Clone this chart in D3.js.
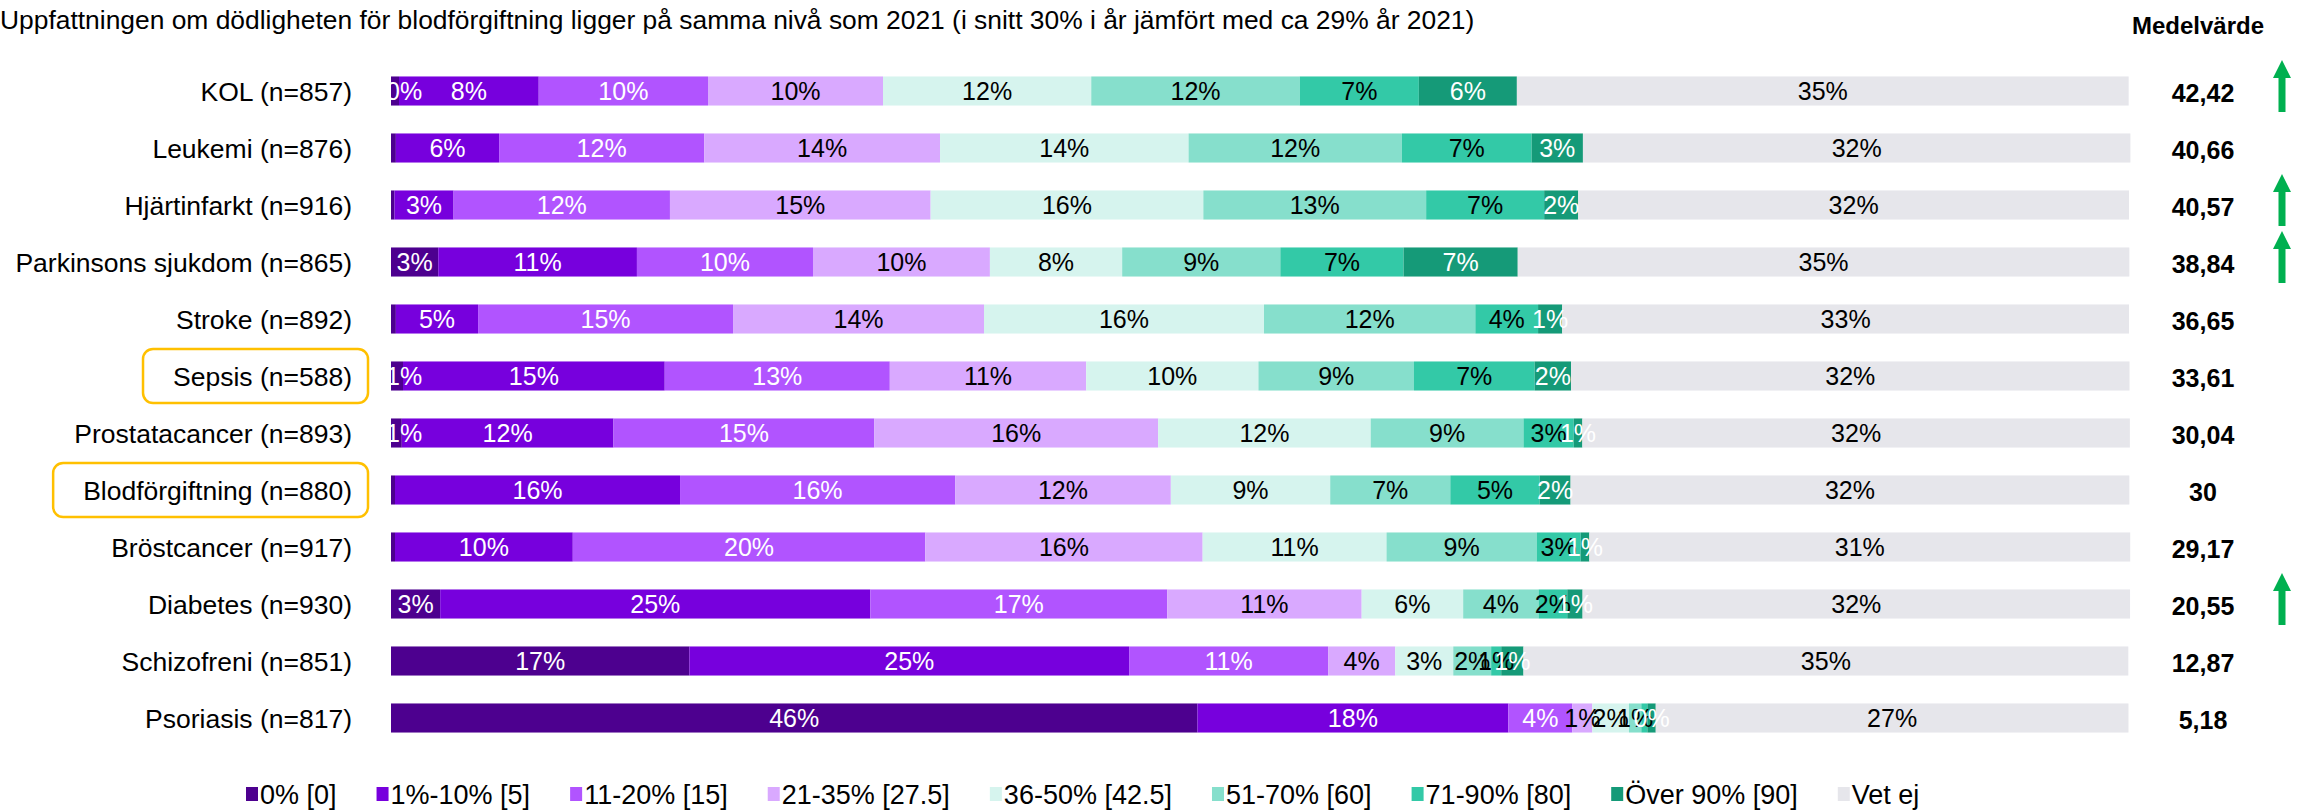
<!DOCTYPE html>
<html>
<head>
<meta charset="utf-8">
<script src="https://cdn.jsdelivr.net/npm/d3@7"></script>
<style>
  body { margin: 0; background: #fff; }
  text { font-family: "Liberation Sans", Arial, sans-serif; }
</style>
</head>
<body>
<svg width="2297" height="812"></svg>
<script>
var title = "Uppfattningen om dödligheten för blodförgiftning ligger på samma nivå som 2021 (i snitt 30% i år jämfört med ca 29% år 2021)";

var categories = ["KOL (n=857)", "Leukemi (n=876)", "Hjärtinfarkt (n=916)", "Parkinsons sjukdom (n=865)",
    "Stroke (n=892)", "Sepsis (n=588)", "Prostatacancer (n=893)", "Blodförgiftning (n=880)",
    "Bröstcancer (n=917)", "Diabetes (n=930)", "Schizofreni (n=851)", "Psoriasis (n=817)"];

var keys = ["0% [0]", "1%-10% [5]", "11-20% [15]", "21-35% [27.5]", "36-50% [42.5]",
    "51-70% [60]", "71-90% [80]", "Över 90% [90]", "Vet ej"];

// andel (%) per svarsalternativ, en array per serie
var s0   = [0.46, 0.28, 0.2, 2.72, 0.28, 0.69, 0.62, 0.23, 0.23, 2.83, 17.17, 46.4];
var s1   = [8.04, 5.94, 3.4, 11.43, 4.73, 15.06, 12.18, 16.4, 10.23, 24.75, 25.3, 17.89];
var s2   = [9.74, 11.8, 12.45, 10.13, 14.67, 12.95, 15.01, 15.83, 20.28, 17.08, 11.45, 3.68];
var s3   = [10.07, 13.57, 15.0, 10.18, 14.44, 11.3, 16.33, 12.41, 15.96, 11.19, 3.86, 1.15];
var s4   = [11.98, 14.3, 15.69, 7.61, 16.11, 9.91, 12.23, 9.17, 10.58, 5.84, 3.34, 2.11];
var s5   = [12.0, 12.27, 12.82, 9.1, 12.16, 8.95, 8.79, 6.91, 8.64, 4.34, 2.18, 0.71];
var s6   = [6.85, 7.47, 6.79, 7.09, 3.61, 6.94, 2.89, 5.14, 2.53, 1.65, 0.58, 0.35];
var s7   = [5.64, 2.95, 1.96, 6.57, 1.39, 2.1, 0.5, 1.78, 0.5, 0.88, 1.28, 0.48];
var vetEj = [35.2, 31.5, 31.69, 35.19, 32.61, 32.13, 31.5, 32.15, 31.12, 31.5, 34.8, 27.2];

var medel = [42.42, 40.66, 40.57, 38.84, 36.65, 33.61, 30.04, 30, 29.17, 20.55, 12.87, 5.18];
var upArrow = ["KOL (n=857)", "Hjärtinfarkt (n=916)", "Parkinsons sjukdom (n=865)", "Diabetes (n=930)"];
var highlighted = ["Sepsis (n=588)", "Blodförgiftning (n=880)"];

var colors = ["#4d008f", "#7700dd", "#b154ff", "#d9a9ff", "#d6f4ee", "#86dfcc", "#33c9a7", "#159a78", "#e6e6eb"];
var textColors = ["#fff", "#fff", "#fff", "#000", "#000", "#000", "#000", "#fff", "#000"];

var series = [s0, s1, s2, s3, s4, s5, s6, s7, vetEj];
var data = categories.map(function(c, i) {
    var row = { cat: c };
    keys.forEach(function(k, j) { row[k] = series[j][i]; });
    return row;
});

var svg = d3.select("svg");

var x = d3.scaleLinear().domain([0, 100]).range([391, 2129]);
var y = d3.scaleBand().domain(categories).range([62.5, 746.5])
    .paddingInner(0.49).paddingOuter(0.245);

svg.append("defs").append("clipPath")
    .attr("id", "plotclip")
    .append("rect")
    .attr("x", x(0))
    .attr("y", 0)
    .attr("width", 2297 - x(0))
    .attr("height", 812);

svg.append("text")
    .attr("x", 0)
    .attr("y", 29)
    .attr("font-size", "26.4px")
    .text(title);

svg.append("text")
    .attr("x", 2198)
    .attr("y", 34)
    .attr("text-anchor", "middle")
    .attr("font-size", "24px")
    .attr("font-weight", "bold")
    .text("Medelvärde");

var stacked = d3.stack().keys(keys)(data);

var layer = svg.append("g").selectAll("g")
    .data(stacked)
    .enter().append("g")
    .attr("fill", function(d, i) { return colors[i]; });

layer.selectAll("rect")
    .data(function(d) { return d; })
    .enter().append("rect")
    .attr("x", function(d) { return x(d[0]); })
    .attr("y", function(d) { return y(d.data.cat); })
    .attr("width", function(d) { return x(d[1]) - x(d[0]); })
    .attr("height", y.bandwidth());

// procentetiketter
var labels = svg.append("g").attr("clip-path", "url(#plotclip)");
stacked.forEach(function(s, i) {
    labels.append("g").selectAll("text")
        .data(s.filter(function(d) { return d[1] - d[0] >= 0.4; }))
        .enter().append("text")
        .attr("y", function(d) { return y(d.data.cat) + y.bandwidth() / 2; })
        .attr("dy", "0.36em")
        .attr("text-anchor", "middle")
        .attr("font-size", "25px")
        .attr("fill", textColors[i])
        .text(function(d) { return Math.round(d[1] - d[0]) + "%"; })
        .attr("x", function(d) {
            var mid = (x(d[0]) + x(d[1])) / 2;
            var half = this.getComputedTextLength() / 2;
            return Math.max(mid, x(0) + half - 5);
        });
});

// kategorier
var catLabels = svg.append("g").selectAll("text")
    .data(categories)
    .enter().append("text")
    .attr("x", 352)
    .attr("y", function(d) { return y(d) + y.bandwidth() / 2; })
    .attr("dy", "0.36em")
    .attr("text-anchor", "end")
    .attr("font-size", "26.5px")
    .text(function(d) { return d; });

catLabels.filter(function(d) { return highlighted.indexOf(d) >= 0; })
    .each(function(d) {
        var bb = this.getBBox();
        svg.append("rect")
            .attr("x", bb.x - 30)
            .attr("y", y(d) + y.bandwidth() / 2 - 27)
            .attr("width", bb.width + 46)
            .attr("height", 54)
            .attr("rx", 10)
            .attr("fill", "none")
            .attr("stroke", "#ffc000")
            .attr("stroke-width", 2.5);
    });

// medelvärden
svg.append("g").selectAll("text")
    .data(medel)
    .enter().append("text")
    .attr("x", 2203)
    .attr("y", function(d, i) { return y(categories[i]) + y.bandwidth() / 2 + 2; })
    .attr("dy", "0.36em")
    .attr("text-anchor", "middle")
    .attr("font-size", "25px")
    .attr("font-weight", "bold")
    .text(function(d) { return String(d).replace(".", ","); });

// pilar
svg.append("g").selectAll("path")
    .data(upArrow)
    .enter().append("path")
    .attr("transform", function(d) { return "translate(2282," + (y(d) + y.bandwidth() / 2) + ")"; })
    .attr("d", "M0,-31 L9,-13 L3.5,-13 L3.5,21 L-3.5,21 L-3.5,-13 L-9,-13 Z")
    .attr("fill", "#00b050");

// legend
var lx = 246;
keys.forEach(function(k, i) {
    var g = svg.append("g").attr("transform", "translate(" + lx + ",787)");
    g.append("rect")
        .attr("width", 12)
        .attr("height", 14)
        .attr("fill", colors[i]);
    var t = g.append("text")
        .attr("x", 14)
        .attr("y", 7)
        .attr("dy", "0.36em")
        .attr("font-size", "27px")
        .text(k);
    lx += 14 + t.node().getComputedTextLength() + 40;
});
</script>
</body>
</html>
